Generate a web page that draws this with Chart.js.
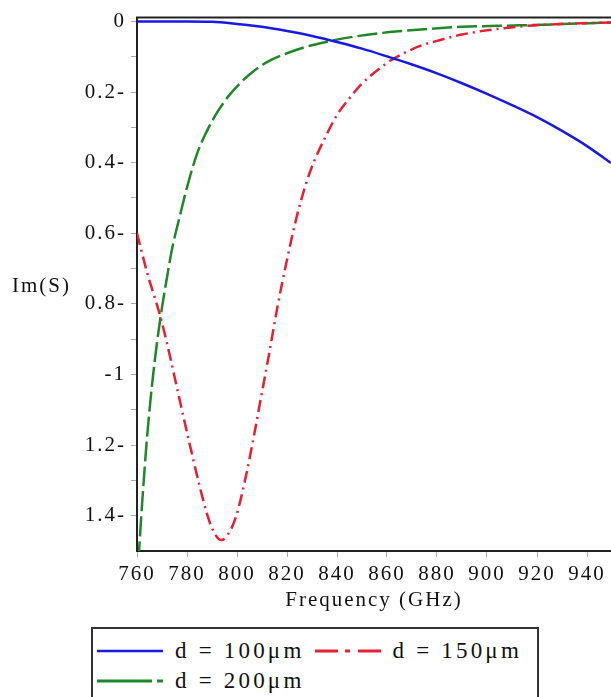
<!DOCTYPE html>
<html>
<head>
<meta charset="utf-8">
<script src="https://cdn.jsdelivr.net/npm/chart.js@4.4.0/dist/chart.umd.min.js"></script>
<style>
  html, body { margin: 0; padding: 0; background: #fff; overflow: hidden; }
  #wrap { position: relative; width: 611px; height: 697px; }
  #legend {
    position: absolute; left: 91px; top: 627px; width: 440px; height: 90px;
    border: 2px solid #333; box-sizing: content-box;
    font-family: "Liberation Serif", serif; font-size: 23px; letter-spacing: 3.2px; color: #111;
    display: flex; flex-wrap: wrap; align-content: flex-start; padding: 7px 0 0 4px;
  }
  .item { display: flex; align-items: center; height: 30px; margin-right: 10px; }
  .item svg { margin-right: 12px; }
</style>
</head>
<body>
<div id="wrap">
  <canvas id="myChart" width="611" height="627"></canvas>
  <div id="legend"></div>
</div>
<script>
// series
const freqBlue = [760, 780, 790, 800, 810, 820, 830, 840, 850, 860, 870, 880, 890, 900, 910, 920, 930, 940, 949.6];
const imBlue   = [0, 0, -0.001, -0.007, -0.015, -0.027, -0.041, -0.058, -0.077, -0.099, -0.122, -0.147, -0.175, -0.205, -0.237, -0.271, -0.31, -0.353, -0.401];

const freqRed = [760, 764, 769.5, 773.5, 777, 781, 785, 788, 790, 793.5, 795.5, 799.5, 803.5, 807, 810, 813, 816, 820,
                 824, 829, 836, 840, 845.5, 850, 858, 862, 873, 881, 890, 900, 915, 933, 949.6];
const imRed   = [-0.6, -0.71, -0.84, -0.958, -1.07, -1.195, -1.315, -1.395, -1.435, -1.469, -1.462, -1.405, -1.29, -1.165, -1.05, -0.935, -0.815, -0.675,
                 -0.55, -0.43, -0.318, -0.265, -0.213, -0.176, -0.128, -0.108, -0.07, -0.053, -0.037, -0.025, -0.013, -0.006, -0.003];

const freqGreen = [760, 761, 762, 764, 766, 768, 770, 772, 774, 777, 780, 784, 788, 792, 797, 805, 812, 820, 828, 837, 845, 861, 877, 890, 913, 949.6];
const imGreen   = [-1.6, -1.48, -1.37, -1.18, -1.03, -0.91, -0.81, -0.725, -0.645, -0.555, -0.47, -0.375, -0.31, -0.258, -0.208, -0.15, -0.115, -0.09, -0.071, -0.056, -0.045, -0.03, -0.021, -0.015, -0.011, -0.003];

const seriesLabels = ['d = 100\u03bcm', 'd = 150\u03bcm', 'd = 200\u03bcm'];

const xTicks = [760, 780, 800, 820, 840, 860, 880, 900, 920, 940];
const yTicks = [0, -0.1, -0.2, -0.3, -0.4, -0.5, -0.6, -0.7, -0.8, -0.9, -1, -1.1, -1.2, -1.3, -1.4];
const yTickLabels = ['0', '', '0.2-', '', '0.4-', '', '0.6-', '', '0.8-', '', '-1', '', '1.2-', '', '1.4-'];

const xTitle = 'Frequency (GHz)';
const yTitle = 'Im(S)';

const toPoints = (xs, ys) => xs.map((x, i) => ({x: x, y: ys[i]}));

const serif = '"Liberation Serif", serif';
const spacing = '2px';

const figurePlugin = {
  id: 'figure',
  beforeUpdate(chart) { chart.ctx.letterSpacing = spacing; },
  beforeDraw(chart) { chart.ctx.letterSpacing = spacing; },
  afterDraw(chart) {
    const ctx = chart.ctx, area = chart.chartArea;
    ctx.save();
    ctx.strokeStyle = '#222';
    ctx.lineWidth = 2;
    ctx.beginPath();
    ctx.moveTo(area.left - 1, area.top);
    ctx.lineTo(area.right, area.top);
    ctx.stroke();
    ctx.fillStyle = '#111';
    ctx.font = '21px ' + serif;
    ctx.letterSpacing = spacing;
    ctx.textAlign = 'left';
    ctx.textBaseline = 'middle';
    ctx.fillText(yTitle, 12, 286);
    ctx.restore();
  }
};

var myChart = new Chart('myChart', {
  type: 'line',
  data: {
    datasets: [{
      label: seriesLabels[0],
      data: toPoints(freqBlue, imBlue),
      borderColor: 'rgb(25,25,230)',
      borderWidth: 2.5,
      legendDash: '',
      legendWidth: 2.5
    }, {
      label: seriesLabels[1],
      data: toPoints(freqRed, imRed),
      borderColor: 'rgb(232,30,50)',
      borderWidth: 2.5,
      borderDash: [12, 5, 2, 5],
      legendDash: '23 7 5 8 30',
      legendWidth: 3
    }, {
      label: seriesLabels[2],
      data: toPoints(freqGreen, imGreen),
      borderColor: 'rgb(30,135,40)',
      borderWidth: 2.5,
      borderDash: [20, 5],
      legendDash: '55 5 6 10',
      legendWidth: 3
    }]
  },
  options: {
    responsive: false,
    animation: false,
    cubicInterpolationMode: 'monotone',
    elements: { point: { radius: 0 } },
    layout: { padding: { top: 17, left: 0, right: 0, bottom: 14 } },
    plugins: { legend: { display: false }, tooltip: { enabled: false } },
    scales: {
      x: {
        type: 'linear',
        min: 760,
        max: 949.6,
        afterBuildTicks: s => { s.ticks = xTicks.map(v => ({value: v})); },
        afterFit: s => { s.height = 62; },
        grid: { drawOnChartArea: false, tickLength: 6, color: '#aaa' },
        border: { color: '#222', width: 2 },
        ticks: { autoSkip: false, maxRotation: 0, padding: 5, color: '#111', font: { family: serif, size: 21 } },
        title: { display: true, text: xTitle, color: '#111', padding: { top: 0, bottom: 0 }, font: { family: serif, size: 21 } }
      },
      y: {
        type: 'linear',
        min: -1.5,
        max: 0.011,
        afterBuildTicks: s => { s.ticks = yTicks.map(v => ({value: v})); },
        afterFit: s => { s.width = 137; },
        grid: { drawOnChartArea: false, tickLength: 6, color: '#aaa' },
        border: { color: '#222', width: 2 },
        ticks: {
          autoSkip: false, padding: 5, color: '#111', font: { family: serif, size: 21 },
          callback: function(v) {
            const i = yTicks.findIndex(t => Math.abs(t - v) < 1e-6);
            return i >= 0 ? yTickLabels[i] : '';
          }
        }
      }
    }
  },
  plugins: [figurePlugin]
});

// html legend built from the datasets
const legendBox = document.getElementById('legend');
myChart.data.datasets.forEach(function(ds) {
  const item = document.createElement('div');
  item.className = 'item';
  item.innerHTML = '<svg width="66" height="8"><line x1="0" y1="4" x2="66" y2="4" stroke="' + ds.borderColor +
    '" stroke-width="' + ds.legendWidth + '" stroke-dasharray="' + ds.legendDash + '"/></svg>';
  const txt = document.createElement('span');
  txt.textContent = ds.label;
  item.appendChild(txt);
  legendBox.appendChild(item);
});
</script>
</body>
</html>
